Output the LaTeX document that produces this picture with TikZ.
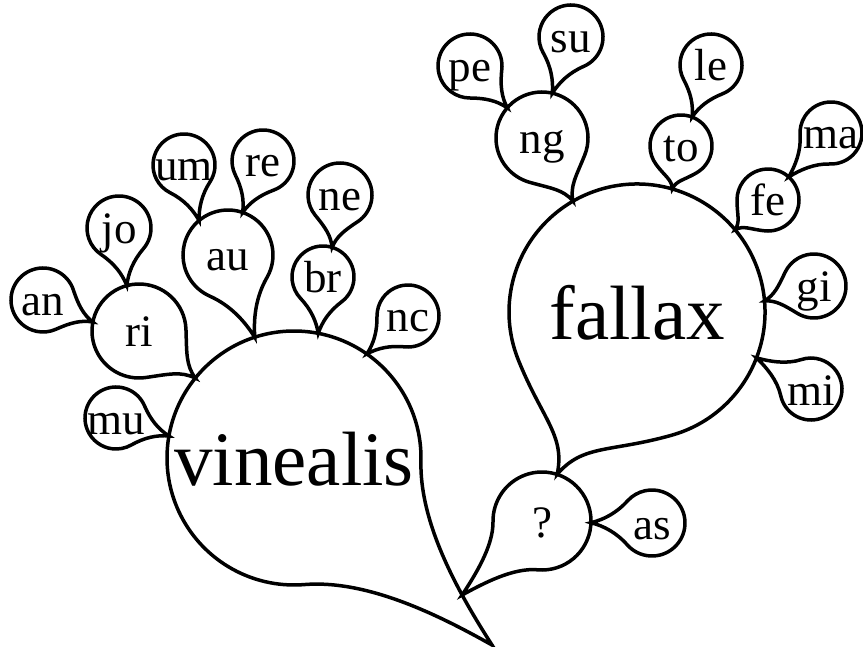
\documentclass[tikz,border=0pt]{standalone}
\usepackage{fontspec}
\setmainfont{Liberation Serif}
\usetikzlibrary{calc}
\tikzset{
  bubline/.style={line width=3.5pt, line join=miter},
  bubtext/.style={circle, inner sep=-15pt, outer sep=0pt},
  labelfont/.style={font=\fontsize{45}{45}\selectfont, text height=32pt, text depth=0pt},
  bigfont/.style={font=\fontsize{77}{77}\selectfont, text height=55pt, text depth=0pt},
}
% Speech bubble: a circle whose tail ends at a given point.
% #1 name, #2 centre, #3 radius (pt), #4 tail tip, #5 text style, #6 text
\newcommand\bubble[6]{%
  \draw[bubline] let \p1=(#2), \p2=(#4),
      \n1={atan2(\y2-\y1,\x2-\x1)},
      \p3=($(\p1)+(\n1+42:#3pt)$),
      \p4=($(\p1)+(\n1-42:#3pt)$)
    in (\p2) .. controls ($(\p2)!0.22!-14:(\p1)$) and ($(\p3)!0.5!90:(\p1)$) .. (\p3)
         coordinate[pos=0.3] (#1-tail)
       arc[start angle=\n1+42, end angle=\n1+318, radius=#3pt]
       .. controls ($(\p4)!0.5!-90:(\p1)$) and ($(\p2)!0.22!14:(\p1)$) .. (\p2) -- cycle;
  \node[bubtext,#5,minimum size=2*#3pt] (#1) at (#2) {#6};
}
\begin{document}
\begin{tikzpicture}[x=1pt,y=-1pt]
\useasboundingbox (0,0) rectangle (863,647);
\coordinate (root) at (492,645);
% main branch
\bubble{V}{294,458}{127}{root}{bigfont}{vinealis}
\bubble{Q}{542,521}{49}{V-tail}{labelfont}{?}
\bubble{F}{637,312}{128}{Q.72}{bigfont}{fallax}
\bubble{A}{652,523}{33}{Q.358}{labelfont}{as}
% around vinealis
\bubble{R}{139,331}{47}{V.141}{labelfont}{ri}
\bubble{M}{116,418}{31}{V.170}{labelfont}{mu}
\bubble{U}{228,255}{45}{V.108}{labelfont}{au}
\bubble{B}{323,277}{31}{V.79}{labelfont}{br}
\bubble{N}{408,316}{31}{V.55}{labelfont}{nc}
\bubble{J}{119,228}{32}{R.105}{labelfont}{jo}
\bubble{AN}{43,300}{32}{R.169}{labelfont}{an}
\bubble{UM}{184,165}{31}{U.130}{labelfont}{um}
\bubble{RE}{263,161}{31}{U.71}{labelfont}{re}
\bubble{NE}{340,195}{32}{B.73}{labelfont}{ne}
% around fallax
\bubble{G}{542,138}{46}{F.120}{labelfont}{ng}
\bubble{T}{681,146}{31}{F.74}{labelfont}{to}
\bubble{E}{768,200}{31}{F.40}{labelfont}{fe}
\bubble{GI}{814,286}{32}{F.5}{labelfont}{gi}
\bubble{MI}{811,389}{31}{F.339}{labelfont}{mi}
\bubble{PE}{470,66}{32}{G.139}{labelfont}{pe}
\bubble{SU}{571,37}{32}{G.77}{labelfont}{su}
\bubble{LE}{711,65}{31}{T.69}{labelfont}{le}
\bubble{MA}{831,133}{31}{E.48}{labelfont}{ma}
\end{tikzpicture}
\end{document}
